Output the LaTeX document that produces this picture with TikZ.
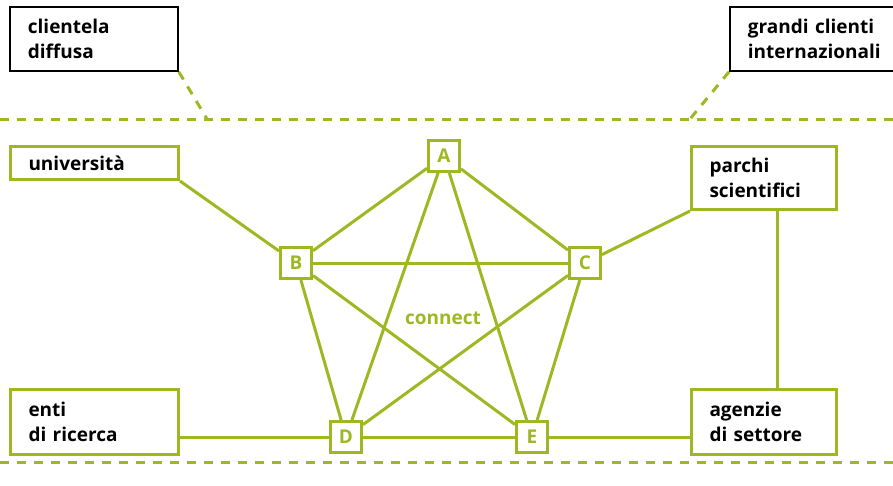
\documentclass[tikz,border=0pt]{standalone}
\usepackage{fontspec}
\setmainfont{Open Sans}
\definecolor{lime}{RGB}{158,184,36}
\begin{document}
\begin{tikzpicture}[x=1pt,y=-1pt,
  txt/.style={font=\fontsize{19}{25}\selectfont\bfseries, align=left},
  gbox/.style={txt, draw=lime, line width=3pt, anchor=north west, inner xsep=18pt, inner ysep=0pt},
  kbox/.style={txt, draw=black, line width=1.8pt, anchor=north west, inner xsep=18pt, inner ysep=0pt},
  letter/.style={draw=lime, line width=3pt, text=lime, font=\fontsize{19}{20}\selectfont\bfseries, minimum width=31pt, minimum height=31pt, inner sep=0pt},
  link/.style={draw=lime, line width=3pt},
  dashline/.style={draw=lime, line width=3pt, dash pattern=on 9pt off 8pt}
]
\useasboundingbox (0,0) rectangle (893,485);
% dashed frame
\draw[dashline] (0,119) -- (893,119);
\draw[dashline] (0,462) -- (893,462);
% outer clients
\node[kbox, minimum width=168pt, minimum height=64pt, text width=132pt] (cd) at (9,6) {clientela\\diffusa};
\node[kbox, minimum width=165pt, minimum height=64pt, text width=129pt] (gc) at (729,6) {grandi clienti\\internazionali};
\coordinate (cdj) at (207,119);
\coordinate (gcj) at (690,119);
\draw[dashline] (cd.south east) -- (cdj);
\draw[dashline] (gc.south west) -- (gcj);
% partner boxes
\node[gbox, minimum width=168pt, minimum height=33pt, text width=132pt] (un) at (9,145) {università};
\node[gbox, minimum width=168pt, minimum height=65pt, text width=132pt] (en) at (9,388) {enti\\di ricerca};
\node[gbox, minimum width=145pt, minimum height=63pt, text width=109pt] (pa) at (690,145) {parchi\\scientifici};
\node[gbox, minimum width=145pt, minimum height=65pt, text width=109pt] (ag) at (690,388) {agenzie\\di settore};
% pentagram nodes
\node[letter] (A) at (444,156) {A};
\node[letter] (B) at (296,263) {B};
\node[letter] (C) at (585,263) {C};
\node[letter] (D) at (346,437) {D};
\node[letter] (E) at (532,437) {E};
\node[text=lime, font=\fontsize{19}{20}\selectfont\bfseries] (cn) at (443,318) {connect};
% edges
\draw[link] (A) -- (B);
\draw[link] (A) -- (C);
\draw[link] (A) -- (D);
\draw[link] (A) -- (E);
\draw[link] (B) -- (C);
\draw[link] (B) -- (D);
\draw[link] (B) -- (E);
\draw[link] (C) -- (D);
\draw[link] (C) -- (E);
\draw[link] (D) -- (E);
% partner links
\draw[link] (un.south east) -- (B);
\draw[link] (pa.south west) -- (C);
\draw[link] (D.west) -- (D.west -| en.east);
\draw[link] (E.east) -- (E.east -| ag.west);
\draw[link] (pa.south -| 777,0) -- (ag.north -| 777,0);
\end{tikzpicture}
\end{document}
